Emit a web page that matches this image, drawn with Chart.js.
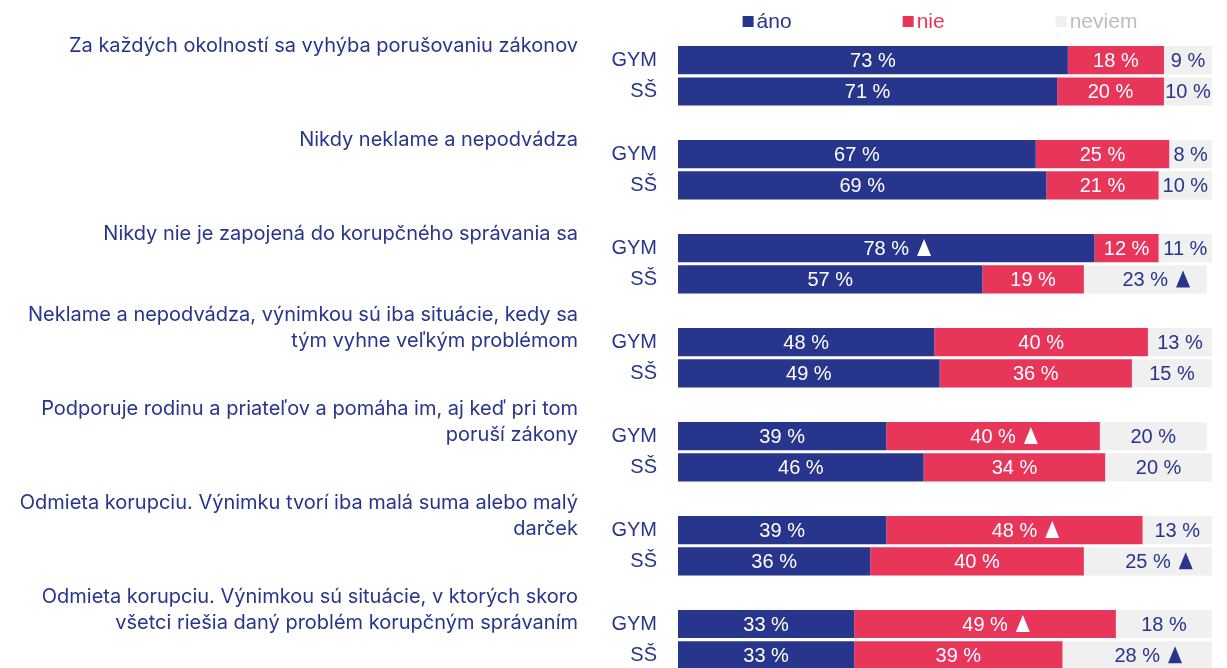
<!DOCTYPE html>
<html>
<head>
<meta charset="utf-8">
<script src="https://cdn.jsdelivr.net/npm/chart.js@4"></script>
<style>
  html, body { margin: 0; padding: 0; background: #fff; overflow: hidden; }
  #wrap { position: relative; width: 1227px; height: 704px; }
</style>
</head>
<body>
<div id="wrap"><canvas id="chart"></canvas></div>
<script>
// survey statements (left side), one per GYM/SŠ pair
const questions = [
  ['Za každých okolností sa vyhýba porušovaniu zákonov'],
  ['Nikdy neklame a nepodvádza'],
  ['Nikdy nie je zapojená do korupčného správania sa'],
  ['Neklame a nepodvádza, výnimkou sú iba situácie, kedy sa', 'tým vyhne veľkým problémom'],
  ['Podporuje rodinu a priateľov a pomáha im, aj keď pri tom', 'poruší zákony'],
  ['Odmieta korupciu. Výnimku tvorí iba malá suma alebo malý', 'darček'],
  ['Odmieta korupciu. Výnimkou sú situácie, v ktorých skoro', 'všetci riešia daný problém korupčným správaním']
];
const groups = ['GYM', 'SŠ'];

// percentages per statement: [GYM, SŠ]
const ano    = [[73, 71], [67, 69], [78, 57], [48, 49], [39, 46], [39, 36], [33, 33]];
const nie    = [[18, 20], [25, 21], [12, 19], [40, 36], [40, 34], [48, 40], [49, 39]];
const neviem = [[9, 10], [8, 10], [11, 23], [13, 15], [20, 20], [13, 25], [18, 28]];

// significance markers (triangle after the value)
const flagAno    = [[false, false], [false, false], [true, false], [false, false], [false, false], [false, false], [false, false]];
const flagNie    = [[false, false], [false, false], [false, false], [false, false], [true, false], [true, false], [true, false]];
const flagNeviem = [[false, false], [false, false], [false, true], [false, false], [false, false], [false, true], [false, true]];

const NAVY = '#28358c', RED = '#e8355a', GREY = '#f0f0f0';

// flatten pairs into rows with an empty spacer row between statements
function rows(pairs, empty) {
  const out = [];
  pairs.forEach((p, i) => {
    out.push(p[0], p[1]);
    if (i < pairs.length - 1) out.push(empty);
  });
  return out;
}
const labels = rows(questions.map(() => groups), '');
const gymIndex = questions.map((_, i) => i * 3);

const labelFont = '20px "Liberation Sans", Arial, sans-serif';

const valueLabels = {
  id: 'valueLabels',
  afterDatasetsDraw(chart) {
    const ctx = chart.ctx, area = chart.chartArea;
    ctx.save();
    ctx.font = labelFont;
    ctx.textBaseline = 'middle';
    ctx.textAlign = 'center';
    chart.data.datasets.forEach((ds, di) => {
      const meta = chart.getDatasetMeta(di);
      meta.data.forEach((el, i) => {
        const v = ds.data[i];
        if (v == null) return;
        const left = Math.min(el.base, el.x);
        const right = Math.min(Math.max(el.base, el.x), area.right);
        const cx = (left + right) / 2;
        const txt = v + ' %';
        ctx.fillStyle = ds.textColor;
        ctx.fillText(txt, cx, el.y + 1);
        if (ds.flags[i]) {
          const tx = cx + ctx.measureText(txt).width / 2 + 8;
          ctx.beginPath();
          ctx.moveTo(tx + 7, el.y - 9);
          ctx.lineTo(tx + 14, el.y + 8);
          ctx.lineTo(tx, el.y + 8);
          ctx.closePath();
          ctx.fill();
        }
      });
    });
    ctx.restore();
  }
};

const sideText = {
  id: 'sideText',
  afterDraw(chart) {
    const ctx = chart.ctx, y = chart.scales.y, area = chart.chartArea;
    ctx.save();
    // statements
    ctx.font = '20px Inter, "Noto Sans", sans-serif';
    ctx.fillStyle = NAVY;
    ctx.textAlign = 'right';
    ctx.textBaseline = 'middle';
    questions.forEach((lines, qi) => {
      const cy = y.getPixelForValue(gymIndex[qi]) - 14;
      const top = cy - (lines.length - 1) * 13;
      lines.forEach((ln, li) => ctx.fillText(ln, 578, top + li * 26));
    });
    // legend
    ctx.font = '21px "Liberation Sans", Arial, sans-serif';
    ctx.textAlign = 'left';
    const items = chart.data.datasets.map(d => ({ text: d.label, box: d.backgroundColor, color: d.legendColor }));
    const gap = 111, box = 11;
    const widths = items.map(it => box + 3 + ctx.measureText(it.text).width);
    const total = widths.reduce((a, b) => a + b, 0) + gap * (items.length - 1);
    let x = (area.left + area.right) / 2 - 5 - total / 2;
    items.forEach((it, i) => {
      ctx.fillStyle = it.box;
      ctx.fillRect(x, 16, box, box);
      ctx.fillStyle = it.color;
      ctx.fillText(it.text, x + box + 3, 22);
      x += widths[i] + gap;
    });
    ctx.restore();
  }
};

new Chart(document.getElementById('chart'), {
  type: 'bar',
  data: {
    labels,
    datasets: [
      { label: 'áno', data: rows(ano, null), flags: rows(flagAno, false), backgroundColor: NAVY, textColor: '#fff', legendColor: NAVY },
      { label: 'nie', data: rows(nie, null), flags: rows(flagNie, false), backgroundColor: RED, textColor: '#fff', legendColor: RED },
      { label: 'neviem', data: rows(neviem, null), flags: rows(flagNeviem, false), backgroundColor: GREY, textColor: NAVY, legendColor: '#bdbdbd' }
    ]
  },
  options: {
    indexAxis: 'y',
    responsive: true,
    maintainAspectRatio: false,
    animation: false,
    categoryPercentage: 1,
    barPercentage: 0.9,
    layout: { padding: { top: 44.5, right: 15, bottom: 0, left: 0 } },
    plugins: { legend: { display: false }, tooltip: { enabled: false } },
    scales: {
      x: { stacked: true, min: 0, max: 100, display: false },
      y: {
        stacked: true,
        grid: { display: false, drawTicks: false },
        border: { display: false },
        ticks: { autoSkip: false, padding: 21, color: NAVY, font: { family: '"Liberation Sans", Arial, sans-serif', size: 20 } },
        afterFit(s) { s.width = 678; }
      }
    }
  },
  plugins: [valueLabels, sideText]
});
</script>
</body>
</html>
